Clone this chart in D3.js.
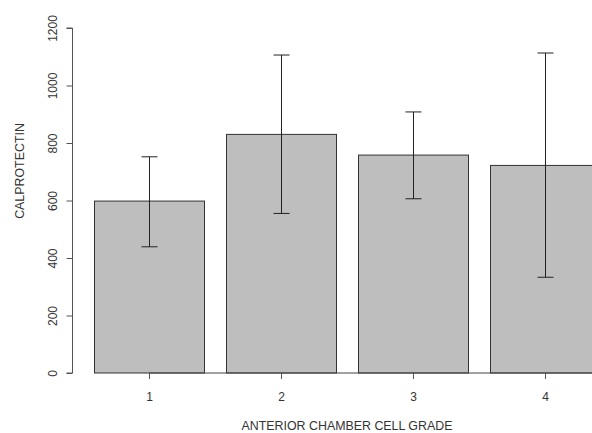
<!DOCTYPE html>
<html><head><meta charset="utf-8">
<script src="https://cdn.jsdelivr.net/npm/d3@7"></script>
<style>body{margin:0;background:#fff;} svg{display:block;}</style>
</head><body>
<svg id="c" width="592" height="433"></svg>
<script>
const categories = ["1","2","3","4"];
const means = [598, 830, 758, 722];
const upper = [752, 1106, 908, 1113];
const lower = [439, 555, 606, 333];
const yTicks = [0, 200, 400, 600, 800, 1000, 1200];

const svg = d3.select("#c");
const font = "'Liberation Sans', Arial, sans-serif";
const y = d3.scaleLinear().domain([0, 1200]).range([373, 28]);
const x = d3.scaleBand().domain(categories).range([94, 600]).paddingInner(1/6).paddingOuter(0);
// bars
svg.selectAll("rect.bar").data(categories).join("rect")
  .attr("x", d => x(d) + 0.5).attr("width", x.bandwidth())
  .attr("y", (d,i) => y(means[i])).attr("height", (d,i) => y(0) - y(means[i]))
  .attr("fill", "#bebebe").attr("stroke", "#333").attr("stroke-width", 1);
// baseline axis line
const cx = d => x(d) + x.bandwidth()/2;
svg.append("line").attr("x1", cx("1")).attr("x2", 592).attr("y1", y(0)).attr("y2", y(0))
  .attr("stroke", "#444");
// error bars
const eb = svg.append("g").attr("stroke", "#222").attr("stroke-width", 1);
categories.forEach((c, i) => {
  const xc = Math.round(cx(c)) + 0.5;
  eb.append("line").attr("x1", xc).attr("x2", xc).attr("y1", y(upper[i])).attr("y2", y(lower[i]));
  [upper[i], lower[i]].forEach(v => {
    eb.append("line").attr("x1", xc - 8).attr("x2", xc + 8).attr("y1", y(v)).attr("y2", y(v));
  });
});
// y axis
const ya = svg.append("g").attr("transform", "translate(72.5,0)")
  .call(d3.axisLeft(y).tickValues(yTicks).tickSize(6).tickFormat(d3.format("d")));
ya.select(".domain").attr("stroke", "#555").attr("d", `M-6,${y(0)}H0V${y(1200)}H-6`);
ya.selectAll(".tick line").attr("stroke", "#555");
ya.selectAll(".tick text").attr("x", 0).attr("y", 0).attr("dy", 0)
  .attr("transform", "translate(-16,0) rotate(-90)")
  .attr("text-anchor", "middle").attr("font-family", font).attr("font-size", 12).attr("fill", "#333");
// x axis ticks
const xa = svg.append("g").attr("transform", `translate(0,${y(0)})`);
categories.forEach(c => {
  const xc = Math.round(cx(c)) + 0.5;
  xa.append("line").attr("x1", xc).attr("x2", xc).attr("y1", 0).attr("y2", 6).attr("stroke", "#555");
  xa.append("text").attr("x", xc).attr("y", 28).attr("text-anchor", "middle")
    .attr("font-family", font).attr("font-size", 12).attr("fill", "#333").text(c);
});
svg.append("text").attr("x", 347).attr("y", 430).attr("text-anchor", "middle")
  .attr("font-family", font).attr("font-size", 12.4).attr("fill", "#333").text("ANTERIOR CHAMBER CELL GRADE");
svg.append("text").attr("transform", "translate(24,171) rotate(-90)").attr("text-anchor", "middle")
  .attr("font-family", font).attr("font-size", 12.4).attr("fill", "#333").text("CALPROTECTIN");
</script>
</body></html>
